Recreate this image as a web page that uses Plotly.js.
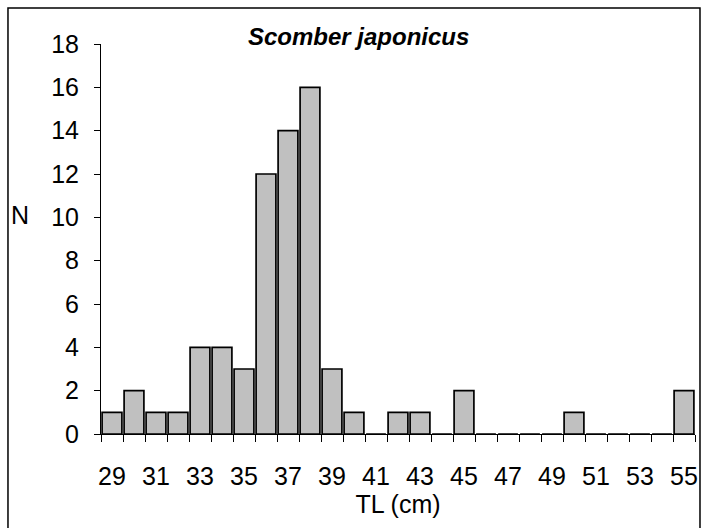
<!DOCTYPE html>
<html>
<head>
<meta charset="utf-8">
<script src="https://cdn.plot.ly/plotly-3.0.1.min.js"></script>
<style>html,body{margin:0;padding:0;background:#fff;}#chart{width:706px;height:528px;}</style>
</head>
<body>
<div id="chart"></div>
<script>
var lengths = [29,30,31,32,33,34,35,36,37,38,39,40,41,42,43,44,45,46,47,48,49,50,51,52,53,54,55];
var counts  = [1,2,1,1,4,4,3,12,14,16,3,1,0,1,1,0,2,0,0,0,0,1,0,0,0,0,2];
var xLabels = [29,31,33,35,37,39,41,43,45,47,49,51,53,55];
var yTicks = [0,2,4,6,8,10,12,14,16,18];
var titleText = "Scomber japonicus";
var xTitle = "TL (cm)";
var yTitle = "N";

var F = "Liberation Sans, Arial, sans-serif";
var FS = 25;

var boundaries = lengths.map(function(v){return v - 0.5;}).concat([lengths[lengths.length-1] + 0.5]);

var trace = {
  type: "bar",
  x: lengths,
  y: counts,
  marker: {color: "#c0c0c0", line: {color: "#000", width: 1.7}},
  hoverinfo: "x+y"
};
var tickHolder = {
  type: "scatter", mode: "none", x: lengths, y: counts,
  xaxis: "x2", yaxis: "y", hoverinfo: "skip", showlegend: false
};

var layout = {
  width: 706, height: 528,
  margin: {l: 101, r: 11, t: 44, b: 94},
  paper_bgcolor: "#fff", plot_bgcolor: "#fff",
  showlegend: false,
  bargap: 0.1,
  font: {family: F, size: FS, color: "#000"},
  title: {text: "<b><i>" + titleText + "</i></b>", x: 0.508, xanchor: "center", y: 0.93, yanchor: "middle",
          font: {family: F, size: 24, color: "#000"}},
  xaxis: {
    range: [28.5, 55.5],
    tickmode: "array", tickvals: xLabels, ticktext: xLabels.map(String),
    ticks: "", showgrid: false, zeroline: false,
    showline: true, linecolor: "#000", linewidth: 1.2,
    ticklabelstandoff: 20,
    tickfont: {family: F, size: FS, color: "#000"},
    title: {text: xTitle, font: {family: F, size: FS, color: "#000"}, standoff: 6}
  },
  xaxis2: {
    range: [28.5, 55.5], overlaying: "x", anchor: "y", side: "bottom",
    tickmode: "array", tickvals: boundaries,
    ticks: "outside", ticklen: 7, tickcolor: "#000", tickwidth: 1,
    showticklabels: false, showgrid: false, zeroline: false, showline: false
  },
  yaxis: {
    range: [0, 18],
    tickmode: "array", tickvals: yTicks,
    ticks: "outside", ticklen: 6, tickcolor: "#000", tickwidth: 1,
    showgrid: false, zeroline: false,
    showline: true, linecolor: "#000", linewidth: 1,
    ticklabelstandoff: 10,
    tickfont: {family: F, size: FS, color: "#000"}
  },
  annotations: [{
    text: yTitle, xref: "paper", yref: "paper", x: -0.136, y: 0.5615,
    xanchor: "center", yanchor: "middle", showarrow: false,
    font: {family: F, size: FS, color: "#000"}
  }],
  shapes: [{
    type: "rect", xref: "paper", yref: "paper",
    x0: -0.1566, x1: 1.0084, y0: -0.245, y1: 1.0923,
    line: {color: "#000", width: 1.5}, fillcolor: "rgba(0,0,0,0)", layer: "below"
  }]
};

Plotly.newPlot("chart", [trace, tickHolder], layout, {displayModeBar: false, staticPlot: true});
</script>
</body>
</html>
